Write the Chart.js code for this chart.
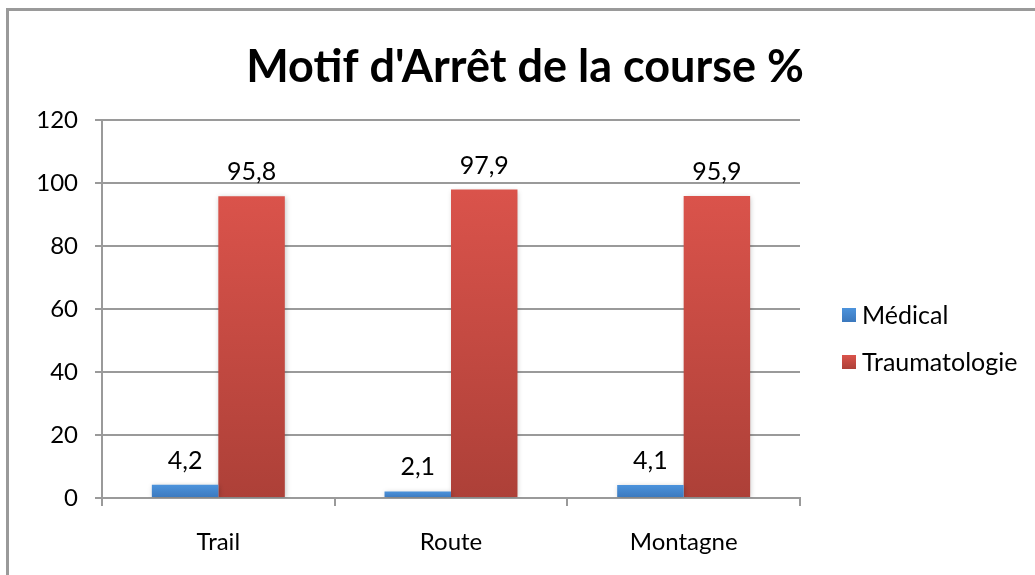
<!DOCTYPE html>
<html>
<head>
<meta charset="utf-8">
<script src="https://cdn.jsdelivr.net/npm/chart.js@4"></script>
<style>
  html, body { margin: 0; padding: 0; background: #fff; overflow: hidden; }
  #frame {
    position: absolute; left: 6px; top: 8px; width: 1100px; height: 650px;
    border-left: 3px solid #9a9a9a; border-top: 3px solid #9a9a9a;
  }
  #wrap { position: absolute; left: 0; top: 0; width: 1035px; height: 575px; }
</style>
</head>
<body>
<div id="frame"></div>
<div id="wrap"><canvas id="chart" width="1035" height="575"></canvas></div>
<script>
// données du graphique
const titre = "Motif d'Arrêt de la course %";
const categories = ['Trail', 'Route', 'Montagne'];
const medical = [4.2, 2.1, 4.1];
const traumatologie = [95.8, 97.9, 95.9];
const yTicks = [0, 20, 40, 60, 80, 100, 120];

const FONT = 'Lato, Carlito, "Open Sans", sans-serif';

// dégradé vertical pour chaque barre
function barGradient(top, bottom) {
    return function (context) {
        const chart = context.chart;
        if (!chart.chartArea || !chart.scales.y) return top;
        const yScale = chart.scales.y;
        const y0 = yScale.getPixelForValue(context.raw);
        const y1 = yScale.getPixelForValue(0);
        if (!isFinite(y0) || !isFinite(y1) || y0 === y1) return top;
        const g = chart.ctx.createLinearGradient(0, y0, 0, y1);
        g.addColorStop(0, top);
        g.addColorStop(1, bottom);
        return g;
    };
}

const fmt = v => v.toString().replace('.', ',');

// ombre légère sous les barres
const shadowPlugin = {
    id: 'barShadow',
    beforeDatasetsDraw(chart) {
        const ctx = chart.ctx;
        ctx.save();
        ctx.shadowColor = 'rgba(0,0,0,0.22)';
        ctx.shadowBlur = 5;
        ctx.shadowOffsetX = 1;
        ctx.shadowOffsetY = 1;
    },
    afterDatasetsDraw(chart) {
        chart.ctx.restore();
    }
};

// étiquettes de valeurs, titre et légende
const labelsPlugin = {
    id: 'extraText',
    afterDraw(chart) {
        const ctx = chart.ctx;
        ctx.save();
        ctx.fillStyle = '#000';
        ctx.textAlign = 'center';
        ctx.textBaseline = 'middle';
        ctx.font = '25px ' + FONT;
        chart.data.datasets.forEach((ds, i) => {
            const meta = chart.getDatasetMeta(i);
            meta.data.forEach((bar, j) => {
                ctx.fillText(fmt(ds.data[j]), bar.x, bar.y - 24);
            });
        });

        // titre
        ctx.font = 'bold 45px ' + FONT;
        ctx.textBaseline = 'alphabetic';
        ctx.fillText(titre, 525, 82);

        // légende
        ctx.textAlign = 'left';
        ctx.textBaseline = 'middle';
        ctx.font = '25px ' + FONT;
        const legendY = [315, 362];
        chart.data.datasets.forEach((ds, i) => {
            const y = legendY[i];
            const g = ctx.createLinearGradient(0, y - 7, 0, y + 7);
            g.addColorStop(0, ds.legendTop);
            g.addColorStop(1, ds.legendBottom);
            ctx.fillStyle = g;
            ctx.fillRect(842, y - 7, 14, 14);
            ctx.fillStyle = '#000';
            ctx.fillText(ds.label, 862, y + 1);
        });
        ctx.restore();
    }
};

new Chart(document.getElementById('chart'), {
    type: 'bar',
    data: {
        labels: categories,
        datasets: [
            {
                label: 'Médical',
                data: medical,
                backgroundColor: barGradient('#4c93dc', '#3b78bd'),
                legendTop: '#4c93dc',
                legendBottom: '#3b78bd',
                borderWidth: 0,
                barPercentage: 1,
                categoryPercentage: 2 / 3.5
            },
            {
                label: 'Traumatologie',
                data: traumatologie,
                backgroundColor: barGradient('#da534b', '#ad4038'),
                legendTop: '#da534b',
                legendBottom: '#ad4038',
                borderWidth: 0,
                barPercentage: 1,
                categoryPercentage: 2 / 3.5
            }
        ]
    },
    options: {
        responsive: false,
        animation: false,
        layout: { padding: { top: 120, right: 235, left: 0, bottom: 0 } },
        plugins: {
            legend: { display: false },
            title: { display: false },
            tooltip: { enabled: false }
        },
        scales: {
            x: {
                offset: true,
                afterFit(scale) { scale.height = 77; },
                grid: {
                    offset: true,
                    drawOnChartArea: false,
                    drawTicks: true,
                    tickLength: 8,
                    color: '#9a9a9a',
                    lineWidth: 2
                },
                border: { color: '#9a9a9a', width: 2 },
                ticks: {
                    color: '#000',
                    padding: 22,
                    font: { family: FONT, size: 24 }
                }
            },
            y: {
                min: 0,
                max: 120,
                afterFit(scale) { scale.width = 102; },
                afterBuildTicks(scale) {
                    scale.ticks = yTicks.map(v => ({ value: v }));
                },
                grid: {
                    color: '#9a9a9a',
                    lineWidth: 2,
                    tickLength: 7
                },
                border: { color: '#9a9a9a', width: 2 },
                ticks: {
                    color: '#000',
                    padding: 17,
                    font: { family: FONT, size: 24 }
                }
            }
        }
    },
    plugins: [shadowPlugin, labelsPlugin]
});
</script>
</body>
</html>
